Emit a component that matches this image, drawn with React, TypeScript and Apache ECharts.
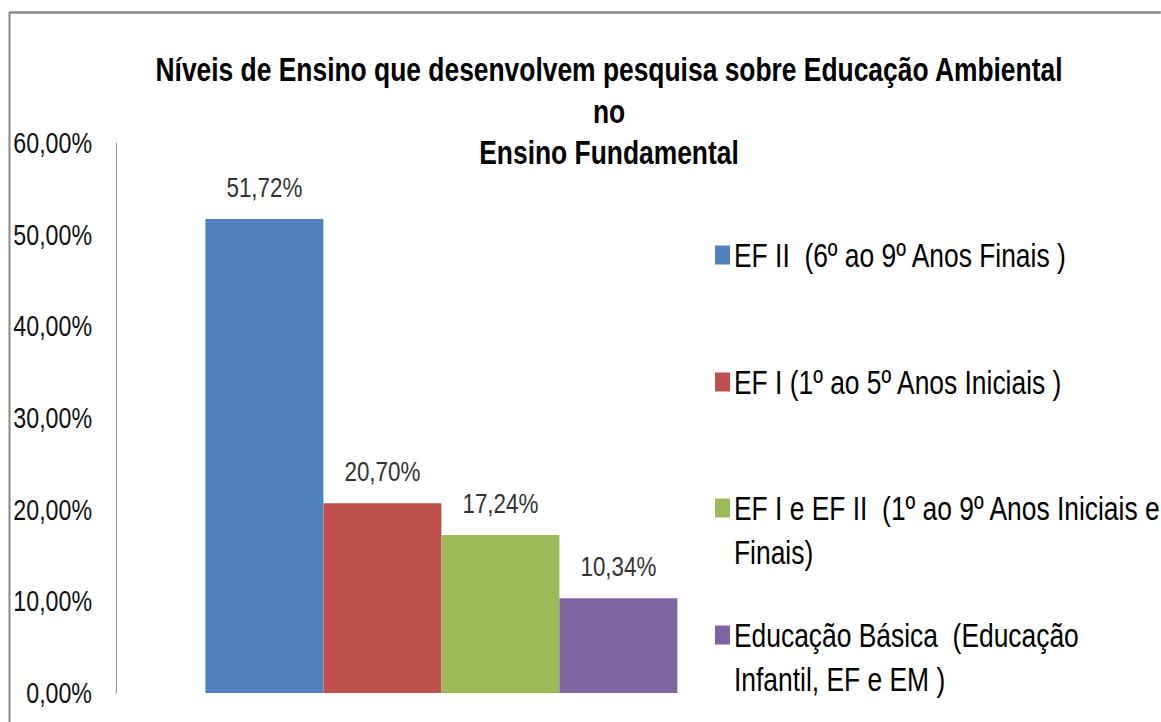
import React, { useEffect, useRef } from "react";
import * as echarts from "echarts";

const seriesNames = [
  "EF II  (6º ao 9º Anos Finais )",
  "EF I (1º ao 5º Anos Iniciais )",
  "EF I e EF II  (1º ao 9º Anos Iniciais e Finais)",
  "Educação Básica  (Educação Infantil, EF e EM )",
];
const legendLabels = [
  "EF II  (6º ao 9º Anos Finais )",
  "EF I (1º ao 5º Anos Iniciais )",
  "EF I e EF II  (1º ao 9º Anos Iniciais e\nFinais)",
  "Educação Básica  (Educação\nInfantil, EF e EM )",
];
const seriesValues = [51.72, 20.7, 17.24, 10.34];
const categories = [""];
const colors = ["#4F81BD", "#C0504D", "#9BBB59", "#8064A2"];
const titleText =
  "Níveis de Ensino que desenvolvem pesquisa sobre Educação Ambiental\nno\nEnsino Fundamental";

// The reference is horizontally condensed; render wider and squeeze with CSS.
const SX = 0.8;
const W = 1161 / SX;
const H = 722;
const ux = (x: number) => x / SX;

const FONT = "'Liberation Sans', Arial, sans-serif";
const fmtPct = (v: number) => v.toFixed(2).replace(".", ",") + "%";

export default function App() {
  const ref = useRef<HTMLDivElement>(null);
  useEffect(() => {
    if (!ref.current) return;
    const chart = echarts.init(ref.current, undefined, { renderer: "svg" });
    const legendCenters = [255, 382, 508, 635];
    const LH = 44;
    const legends = seriesNames.map((name, i) => {
      const multi = legendLabels[i].includes("\n");
      const lines = multi ? 3 : 1;
      return {
        orient: "vertical",
        left: ux(715),
        top: legendCenters[i] - (lines * LH) / 2,
        padding: 0,
        itemWidth: ux(15),
        itemHeight: 19,
        icon: "rect",
        selectedMode: false,
        data: [name],
        formatter: () => (multi ? "\n" + legendLabels[i] : legendLabels[i]),
        textStyle: { fontFamily: FONT, fontSize: 33, color: "#000", lineHeight: LH },
      };
    });
    chart.setOption({
      animation: false,
      color: colors,
      title: {
        text: titleText,
        left: ux(609),
        top: 49,
        textAlign: "center",
        padding: 0,
        textStyle: {
          fontFamily: FONT,
          fontSize: 33,
          fontWeight: "bold",
          color: "#000",
          lineHeight: 41.5,
        },
      },
      legend: legends,
      grid: {
        left: ux(116),
        right: W - ux(767),
        top: 143,
        bottom: 29,
        containLabel: false,
        outerBoundsMode: "none",
      },
      xAxis: {
        type: "category",
        data: categories,
        axisLine: { show: false },
        axisTick: { show: false },
        axisLabel: { show: false },
      },
      yAxis: {
        type: "value",
        min: 0,
        max: 60,
        interval: 10,
        axisLine: { show: true, lineStyle: { color: "#868686", width: 1.25 } },
        axisTick: { show: false },
        splitLine: { show: false },
        axisLabel: {
          formatter: (v: number) => fmtPct(v),
          fontFamily: FONT,
          fontSize: 29,
          color: "#111",
          margin: ux(24),
        },
      },
      series: seriesNames.map((name, i) => ({
        name,
        type: "bar",
        barWidth: ux(118),
        barGap: "0%",
        data: [seriesValues[i]],
        itemStyle: { color: colors[i] },
        label: {
          show: true,
          position: "top",
          distance: 18,
          formatter: (p: any) => fmtPct(p.value),
          fontFamily: FONT,
          fontSize: 28,
          color: "#333",
        },
      })),
      graphic: [
        { type: "line", shape: { x1: ux(9), y1: 12.5, x2: W, y2: 12.5 }, style: { stroke: "#888", lineWidth: 2.5 } },
        { type: "line", shape: { x1: ux(9.5), y1: 12, x2: ux(9.5), y2: H }, style: { stroke: "#888", lineWidth: 2.5 } },
      ],
    });
    return () => chart.dispose();
  }, []);
  return (
    <div style={{ position: "fixed", left: 0, top: 0, width: 1161, height: H, overflow: "hidden", background: "#fff" }}>
      <div
        ref={ref}
        style={{
          width: W,
          height: H,
          transform: `scaleX(${SX})`,
          transformOrigin: "0 0",
        }}
      />
    </div>
  );
}
